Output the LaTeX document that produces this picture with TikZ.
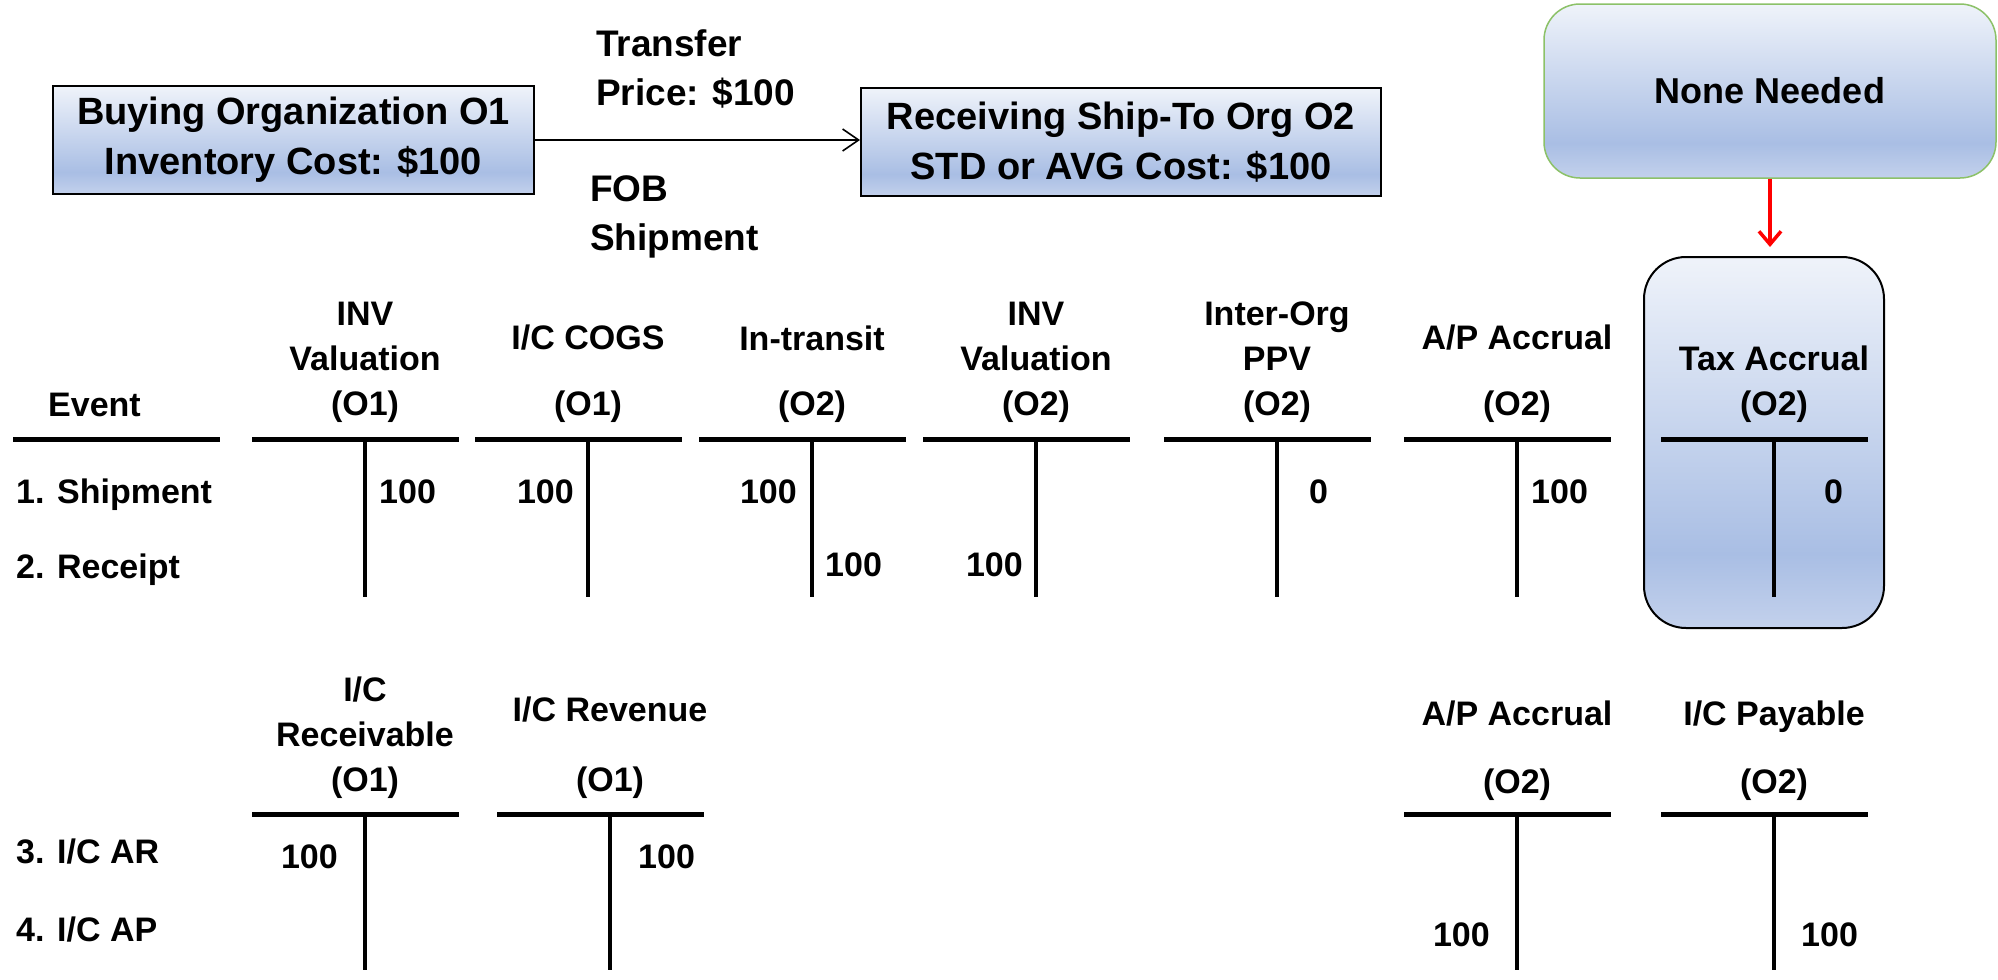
\documentclass[tikz,border=0pt]{standalone}
\usepackage{fontspec}
\setmainfont{Liberation Sans}
\usetikzlibrary{arrows.meta, positioning}

\definecolor{fadetop}{HTML}{EFF3FA}
\definecolor{fademid}{HTML}{A9BEE4}
\definecolor{fadebot}{HTML}{C3D1EC}
\definecolor{leafgreen}{HTML}{8CC168}
\pgfdeclareverticalshading{boxfade}{100bp}{color(0bp)=(fadebot); color(25bp)=(fadebot); color(35bp)=(fademid); color(75bp)=(fadetop); color(100bp)=(fadetop)}

\begin{document}
\begin{tikzpicture}[
  x=1pt, y=-1pt,
  orgbox/.style={draw, line width=2pt, shading=boxfade, align=center, inner sep=0pt, font=\fontsize{38}{50}\selectfont\bfseries},
  softbox/.style={draw, rounded corners=36pt, shading=boxfade, align=center, inner sep=0pt},
  note/.style={align=left, inner sep=0pt, anchor=west, font=\fontsize{37}{49}\selectfont\bfseries},
  acct/.style={align=center, inner sep=0pt, anchor=south, font=\fontsize{34}{45}\selectfont\bfseries},
  amount/.style={inner sep=0pt, text height=24pt, text depth=7pt, font=\fontsize{34}{40}\selectfont\bfseries},
  tbar/.style={line width=5pt},
  tstem/.style={line width=3.5pt},
  flow/.style={-{Straight Barb[length=16pt, width=22pt]}, line width=1.6pt}
]
\useasboundingbox (0,0) rectangle (1998,980);

% org boxes and transfer
\node[orgbox, minimum width=481, minimum height=108] (buy) at (293.5,140) {Buying Organization O1\\Inventory Cost: \$100};
\node[orgbox, minimum width=520, minimum height=108] (recv) at (1121,142) {Receiving Ship-To Org O2\\STD or AVG Cost: \$100};
\node[note] (price) at (596,69) {Transfer\\Price: \$100};
\node[note] (fob) at (590,217) {FOB\\Shipment};
\draw[flow] (buy.east) -- (buy.east -| recv.west);

% tax side
\node[softbox, leafgreen, line width=1.5pt, minimum width=452, minimum height=174, font=\fontsize{36}{44}\selectfont\bfseries, text=black] (none) at (1770,91) {None Needed};
\node[softbox, line width=2pt, rounded corners=42pt, minimum width=240, minimum height=371] (tax) at (1764,442.5) {};
\coordinate (taxtop) at (1770,247);
\draw[red, line width=3.5pt, -{Straight Barb[length=13pt, width=22pt]}] (none) -- (taxtop);

% T accounts
\draw[tbar] (13,439) -- (220,439);
\foreach \x in {365,588,812,1036,1277,1517,1774}{
  \draw[tbar] (\x-113,439) -- (\x+94,439);
  \draw[tstem] (\x,439) -- (\x,597);
}
\foreach \x in {365,610,1517,1774}{
  \draw[tbar] (\x-113,814) -- (\x+94,814);
  \draw[tstem] (\x,814) -- (\x,970);
}

\node[acct] (invone) at (365,423) {INV\\Valuation\\(O1)};
\node[acct] (cogsone) at (588,423) {I/C COGS\\[21pt](O1)};
\node[acct] (transit) at (812,423) {In-transit\\[20pt](O2)};
\node[acct] (invtwo) at (1036,423) {INV\\Valuation\\(O2)};
\node[acct] (ppvtwo) at (1277,423) {Inter-Org\\PPV\\(O2)};
\node[acct] (aptwo) at (1517,423) {A/P Accrual\\[21pt](O2)};
\node[acct] (taxtwo) at (1774,423) {Tax Accrual\\(O2)};

\node[acct] (recvone) at (365,799) {I/C\\Receivable\\(O1)};
\node[acct] (revone) at (610,799) {I/C Revenue\\[25pt](O1)};
\node[acct] (apdue) at (1517,801) {A/P Accrual\\[23pt](O2)};
\node[acct] (paytwo) at (1774,801) {I/C Payable\\[23pt](O2)};

% events
\node[amount, anchor=west] (event) at (48,408) {Event};
\node[amount, anchor=west] (ship) at (16,495) {1. Shipment};
\node[amount, anchor=west] (rcpt) at (16,570) {2. Receipt};
\node[amount, anchor=west] (icar) at (16,855) {3. I/C AR};
\node[amount, anchor=west] (icap) at (16,933) {4. I/C AP};

% amounts
\node[amount, anchor=west] (a1) at (379,495) {100};
\node[amount, anchor=east] (a2) at (574,495) {100};
\node[amount, anchor=east] (a3) at (797,495) {100};
\node[amount, anchor=west] (a4) at (825,568) {100};
\node[amount, anchor=east] (a5) at (1023,568) {100};
\node[amount, anchor=west] (a6) at (1309,495) {0};
\node[amount, anchor=west] (a7) at (1531,495) {100};
\node[amount, anchor=west] (a8) at (1824,495) {0};
\node[amount, anchor=east] (b1) at (338,860) {100};
\node[amount, anchor=west] (b2) at (638,860) {100};
\node[amount, anchor=east] (b3) at (1490,938) {100};
\node[amount, anchor=west] (b4) at (1801,938) {100};
\end{tikzpicture}
\end{document}
